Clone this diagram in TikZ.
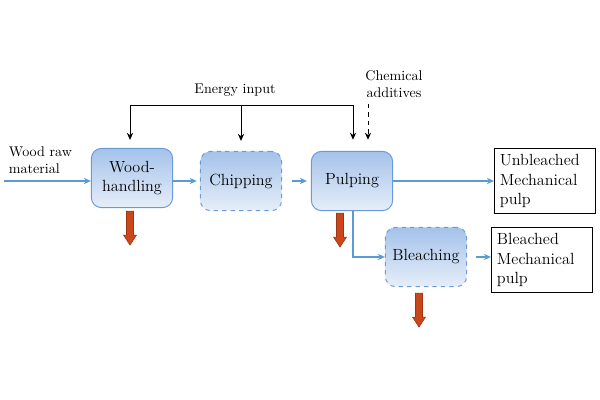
\documentclass[tikz,border=0pt]{standalone}
\usetikzlibrary{arrows.meta}
\definecolor{procline}{HTML}{6A9AD8}
\definecolor{proctop}{HTML}{A4C2EA}
\definecolor{procbot}{HTML}{E6EEF9}
\definecolor{flowblue}{HTML}{5B9BD5}
\definecolor{wastered}{HTML}{C9471B}
\definecolor{wastedark}{HTML}{9C3511}
\begin{document}
\begin{tikzpicture}[x=0.025cm, y=-0.025cm,
  proc/.style={draw=procline, line width=0.7pt, rounded corners=0.25cm,
    top color=proctop, bottom color=procbot, minimum width=2.03cm,
    minimum height=1.48cm, align=center, font=\fontsize{11.5}{14}\selectfont},
  optproc/.style={proc, dashed},
  product/.style={draw, line width=0.6pt, minimum width=2.53cm, minimum height=1.62cm,
    text width=2.25cm, align=left, font=\fontsize{11.5}{14}\selectfont},
  label/.style={font=\fontsize{10}{12}\selectfont, align=left},
  flow/.style={draw=flowblue, line width=0.9pt, -{Stealth[length=5pt,width=4.5pt]}},
  energy/.style={line width=0.7pt, -{Stealth[length=5pt,width=4.5pt]}},
  waste/.pic={\draw[draw=wastedark, fill=wastered, line width=0.4pt]
    (-3.5,0) -- (3.5,0) -- (3.5,24) -- (6.5,24) -- (0,34) -- (-6.5,24) -- (-3.5,24) -- cycle;}]
\useasboundingbox (0,0) rectangle (600,400);

% process steps
\node[proc] (wood) at (132,178) {Wood-\\handling};
\node[optproc] (chip) at (241,181) {Chipping};
\node[proc] (pulp) at (352,181) {Pulping};
\node[optproc] (bleach) at (426,257) {Bleaching};

% products
\node[product] (unbl) at (545,181) {Unbleached\\Mechanical\\pulp};
\node[product] (bl) at (542,260) {Bleached\\Mechanical\\pulp};

% inputs
\node[label, anchor=west] (raw) at (4,160) {Wood raw\\material};
\coordinate (rawin) at (4,181);
\node[label] (energy) at (235,90) {Energy input};
\node[label, align=center] (chem) at (394,84) {Chemical\\additives};
\coordinate (eL) at (130,105);
\coordinate (eR) at (353,105);
\coordinate (chemtop) at (368,104);

% energy
\draw[line width=0.7pt] (eL) -- (eR);
\draw[energy, shorten >=0.2cm] (eL) -- (eL |- wood.north);
\draw[energy, shorten >=0.25cm] (eL -| chip) -- (chip.north);
\draw[energy, shorten >=0.28cm] (eR) -- (eR |- pulp.north);
\draw[energy, dashed, shorten >=0.28cm] (chemtop) -- (chemtop |- pulp.north);

% main flow
\draw[flow] (rawin) -- (wood.west |- rawin);
\draw[flow, shorten >=0.08cm] (wood.east |- chip) -- (chip.west);
\draw[flow, shorten <=0.25cm, shorten >=0.1cm] (chip.east) -- (pulp.west);
\draw[flow] (pulp.east) -- (unbl.west);
\draw[flow] (pulp.south) ++(1,0) |- (bleach.west);
\draw[flow, shorten <=0.22cm] (bleach.east) -- (bl.west |- bleach);

% wastes
\path (wood.south) ++(-2,3) pic {waste};
\path (pulp.south) ++(-12,2) pic {waste};
\path (bleach.south) ++(-7,6) pic {waste};
\end{tikzpicture}
\end{document}
